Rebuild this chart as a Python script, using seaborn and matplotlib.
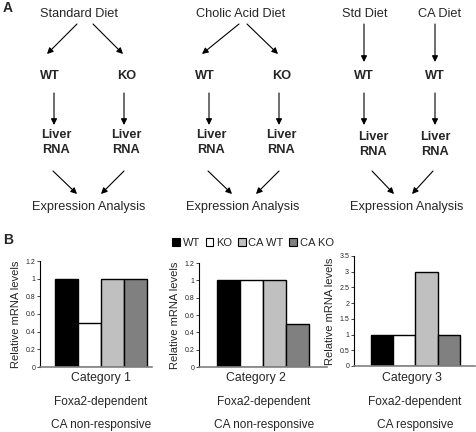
import matplotlib
matplotlib.use("Agg")
import matplotlib.pyplot as plt
import seaborn as sns
from matplotlib.patches import Patch

# dati
gruppi = ['WT', 'KO', 'CA WT', 'CA KO']
colori = ['#000000', '#ffffff', '#c0c0c0', '#808080']
cat1 = [1.0, 0.5, 1.0, 1.0]
cat2 = [1.0, 1.0, 1.0, 0.5]
cat3 = [1.0, 1.0, 3.0, 1.0]
titoli_cat = ['Category 1', 'Category 2', 'Category 3']
dipendenza = ['Foxa2-dependent', 'Foxa2-dependent', 'Foxa2-dependent']
risposta = ['CA non-responsive', 'CA non-responsive', 'CA responsive']

sns.set_style('white')
plt.rcParams['font.family'] = ['Liberation Sans', 'DejaVu Sans']

W, H = 477, 432
fig = plt.figure(figsize=(W / 100, H / 100), dpi=100)

# asse di sfondo in pixel per lo schema del pannello A
bg = fig.add_axes([0, 0, 1, 1])
bg.set_xlim(0, W)
bg.set_ylim(H, 0)
bg.axis('off')

def freccia(x0, y0, x1, y1):
    bg.annotate('', xy=(x1, y1), xytext=(x0, y0),
                arrowprops=dict(arrowstyle='-|>', lw=0.8, color='black',
                                mutation_scale=9, shrinkA=0, shrinkB=0))

def testo(x, y, s, bold=False, size=9.2):
    bg.text(x, y, s, ha='center', va='center', fontsize=size,
            fontweight='bold' if bold else 'normal')

bg.text(3, 8, 'A', fontsize=10, fontweight='bold', va='center')
bg.text(3, 240, 'B', fontsize=10, fontweight='bold', va='center')

# blocchi 1 e 2: una dieta, WT e KO
for cx, dieta, xs in [(79, 'Standard Diet', (50, 127)), (241, 'Cholic Acid Diet', (205, 282))]:
    testo(cx, 14, dieta)
    wt, ko = xs
    freccia(cx - 2, 24, wt - 3, 54)
    freccia(cx + 14 if cx == 79 else cx + 6, 24, ko - 4, 54)
    testo(wt, 76, 'WT', bold=True)
    testo(ko, 76, 'KO', bold=True)
    for x in (wt + 4, ko - 3):
        freccia(x, 93, x, 125)
        testo(x + 2, 135, 'Liver', bold=True)
        testo(x + 2, 150, 'RNA', bold=True)
    freccia(wt + 3, 171, wt + 27, 194)
    freccia(ko - 3, 171, ko - 26, 194)
    testo(cx + 10 if cx == 79 else cx + 2, 207, 'Expression Analysis')

# blocco 3: due diete, solo WT
for x, dieta in [(364, 'Std Diet'), (435, 'CA Diet')]:
    testo(x + 1 if x == 364 else x + 5, 14, dieta)
    freccia(x, 24, x, 62)
    testo(x, 76, 'WT', bold=True)
    freccia(x, 93, x, 125)
    testo(x + 9 if x == 364 else x, 137, 'Liver', bold=True)
    testo(x + 9 if x == 364 else x, 152, 'RNA', bold=True)
freccia(372, 171, 394, 194)
freccia(433, 171, 412, 194)
testo(407, 207, 'Expression Analysis')

# pannello B: grafici a barre
pannelli = [
    (cat1, (40, 152, 261, 367), (-1.15, 3.72), 1.2, 0.2, 101, 101),
    (cat2, (199, 327, 263, 367), (-1.28, 4.28), 1.2, 0.2, 256, 264),
    (cat3, (354, 475, 256, 366), (-1.27, 4.18), 3.5, 0.5, 412, 415),
]

for i, (valori, (x0, x1, yt, yb), xlim, ymax, passo, cx, cx2) in enumerate(pannelli):
    ax = fig.add_axes([x0 / W, 1 - yb / H, (x1 - x0) / W, (yb - yt) / H])
    ax.patch.set_alpha(0)
    sns.barplot(x=gruppi, y=valori, hue=gruppi, palette=colori, edgecolor='black',
                linewidth=1, width=1.0, legend=False, ax=ax)
    ax.set_xlim(*xlim)
    ax.set_ylim(0, ymax)
    n = int(round(ymax / passo))
    ticks = [round(k * passo, 2) for k in range(n + 1)]
    ax.set_yticks(ticks)
    ax.set_yticklabels([('%g' % t) for t in ticks], fontsize=5)
    ax.set_xticks([])
    ax.set_xlabel('')
    ax.set_ylabel('Relative mRNA levels', fontsize=8, labelpad=3)
    ax.tick_params(axis='y', direction='out', length=2, width=0.6, pad=1.5, left=True)
    for s in ['top', 'right']:
        ax.spines[s].set_visible(False)
    ax.spines['left'].set_color('black')
    ax.spines['left'].set_linewidth(0.8)
    ax.spines['bottom'].set_color('#808080')
    ax.spines['bottom'].set_linewidth(1.2)
    testo(cx, 378, titoli_cat[i], size=8.8)
    testo(cx2, 402, dipendenza[i], size=8.6)
    testo(cx2, 425, risposta[i], size=8.6)

# legenda
maniglie = [Patch(facecolor=c, edgecolor='black', linewidth=0.8, label=g)
            for g, c in zip(gruppi, colori)]
fig.legend(handles=maniglie, loc='center', bbox_to_anchor=(253 / W, 1 - 243 / H),
           ncol=4, frameon=False, fontsize=8, handlelength=0.7, handleheight=0.7,
           handletextpad=0.25, columnspacing=0.5, borderpad=0)

fig.savefig('out.png', dpi=100)
